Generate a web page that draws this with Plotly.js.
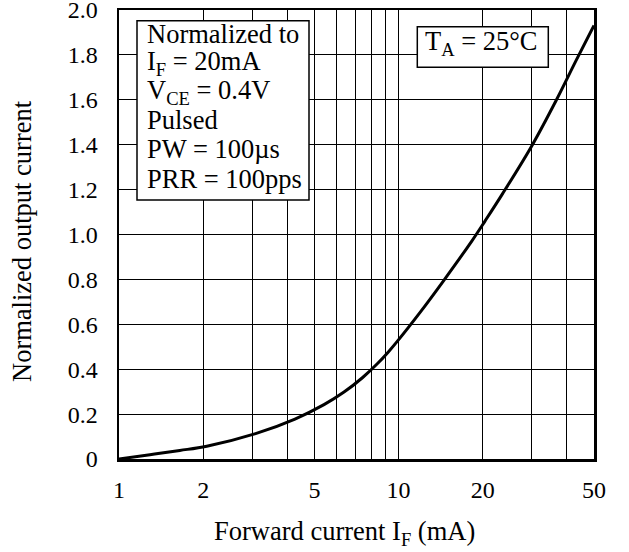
<!DOCTYPE html>
<html>
<head>
<meta charset="utf-8">
<script src="https://cdn.plot.ly/plotly-3.0.1.min.js"></script>
<style>html,body{margin:0;padding:0;background:#fff;}#chart{width:629px;height:552px;}</style>
</head>
<body>
<div id="chart"></div>
<script>
var forwardCurrent = [1, 1.29, 1.65, 2.06, 3.08, 4.26, 5.41, 6.38, 7.44, 8.39, 9.19, 9.89, 11.9, 14.5, 18.3, 20.4, 23.5, 29.8, 36.6, 43.3, 50];
var normalizedOutput = [0, 0.019, 0.038, 0.057, 0.113, 0.178, 0.242, 0.298, 0.363, 0.424, 0.477, 0.524, 0.651, 0.795, 0.972, 1.061, 1.18, 1.39, 1.597, 1.779, 1.931];
var xTickVals = [1, 2, 3, 4, 5, 6, 7, 8, 9, 10, 20, 30, 40, 50];
var xTickText = ['1', '2', '', '', '5', '', '', '', '', '10', '20', '', '', '50'];
var yTickVals = [0, 0.2, 0.4, 0.6, 0.8, 1.0, 1.2, 1.4, 1.6, 1.8, 2.0];
var yTickText = ['0', '0.2', '0.4', '0.6', '0.8', '1.0', '1.2', '1.4', '1.6', '1.8', '2.0'];
var noteLines = ['Normalized to', 'I<sub>F</sub> = 20mA', 'V<sub>CE</sub> = 0.4V', 'Pulsed', 'PW = 100µs', 'PRR = 100pps'];
var tempNote = 'T<sub>A</sub> = 25°C';
var xTitle = 'Forward current I<sub>F</sub> (mA)';
var yTitle = 'Normalized output current';

var serif = 'Liberation Serif, Times New Roman, serif';
var boxFont = 26.5;

// plot area geometry in pixels (for placing the note boxes)
var L = 119, R = 594, T = 10, B = 459;
function px(x) { return (x - L) / (R - L); }
function py(y) { return (B - y) / (B - T); }

var trace = {
  x: forwardCurrent, y: normalizedOutput, type: 'scatter', mode: 'lines',
  line: {color: '#000', width: 3, shape: 'spline', smoothing: 1.0},
  hoverinfo: 'skip', showlegend: false
};

var annotations = [];
var lineCenters = [33.7, 63.2, 92.2, 120.5, 148.8, 178.5];
noteLines.forEach(function (t, i) {
  annotations.push({
    xref: 'paper', yref: 'paper', x: px(146), y: py(lineCenters[i]),
    xanchor: 'left', yanchor: 'middle', align: 'left', showarrow: false,
    text: t, font: {family: serif, size: boxFont, color: '#000'}, borderpad: 0
  });
});
annotations.push({
  xref: 'paper', yref: 'paper', x: px(424), y: py(43),
  xanchor: 'left', yanchor: 'middle', align: 'left', showarrow: false,
  text: tempNote, font: {family: serif, size: boxFont, color: '#000'}, borderpad: 0
});
annotations.push({
  xref: 'paper', yref: 'paper', x: px(344), y: py(533),
  xanchor: 'center', yanchor: 'middle', showarrow: false,
  text: xTitle, font: {family: serif, size: boxFont, color: '#000'}
});
annotations.push({
  xref: 'paper', yref: 'paper', x: px(22), y: py(241), textangle: -90,
  xanchor: 'center', yanchor: 'middle', showarrow: false,
  text: yTitle, font: {family: serif, size: boxFont, color: '#000'}
});

var layout = {
  width: 629, height: 552,
  margin: {l: L, r: 629 - R, t: T, b: 552 - B},
  paper_bgcolor: '#fff', plot_bgcolor: '#fff',
  font: {family: serif, size: 24, color: '#000'},
  xaxis: {
    type: 'log', range: [0, Math.log10(50)],
    tickvals: xTickVals, ticktext: xTickText, ticks: '',
    showgrid: true, gridcolor: '#000', gridwidth: 1,
    showline: true, linecolor: '#000', linewidth: 2.5, mirror: true,
    zeroline: false, tickfont: {family: serif, size: 24, color: '#000'},
    ticklabelstandoff: 8, ticklabeloverflow: 'allow'
  },
  yaxis: {
    range: [0, 2.0], tickvals: yTickVals, ticktext: yTickText, ticks: '',
    showgrid: true, gridcolor: '#000', gridwidth: 1,
    showline: true, linecolor: '#000', linewidth: 2.5, mirror: true,
    zeroline: false, tickfont: {family: serif, size: 24, color: '#000'},
    ticklabelstandoff: 14, ticklabeloverflow: 'allow'
  },
  shapes: [
    {type: 'rect', xref: 'paper', yref: 'paper', layer: 'above',
     x0: px(137), x1: px(309), y0: py(200), y1: py(20.7),
     fillcolor: '#fff', line: {color: '#000', width: 1.5}},
    {type: 'rect', xref: 'paper', yref: 'paper', layer: 'above',
     x0: px(417.3), x1: px(548.3), y0: py(67.3), y1: py(26.7),
     fillcolor: '#fff', line: {color: '#000', width: 1.5}}
  ],
  annotations: annotations
};
Plotly.newPlot('chart', [trace], layout, {displayModeBar: false, staticPlot: true});
</script>
</body>
</html>
